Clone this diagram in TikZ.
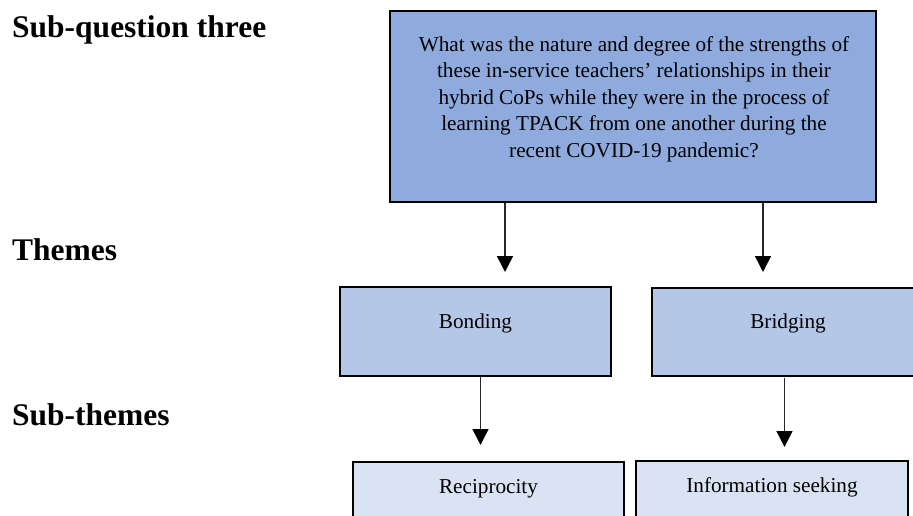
\documentclass[tikz,border=0pt]{standalone}
\usepackage{fontspec}
\setmainfont{Liberation Serif}
\usetikzlibrary{arrows.meta}

\definecolor{qfill}{HTML}{8FAADC}
\definecolor{tfill}{HTML}{B4C7E7}
\definecolor{sfill}{HTML}{DAE3F3}

\tikzset{
  box/.style={draw=black, line width=2.6pt, inner sep=0pt, rectangle},
  boxtext/.style={font=\fontsize{21.2}{26.6}\selectfont, inner sep=0pt},
  rowlabel/.style={font=\fontsize{31.5}{36}\selectfont\bfseries, inner sep=0pt, anchor=base west},
  arr/.style={draw=black!85, line width=1.5pt, -{Triangle[width=16pt,length=16pt,color=black]}}
}

\begin{document}
\begin{tikzpicture}[x=1pt, y=-1pt]
  \useasboundingbox (0,0) rectangle (913,516);
  \clip (0,0) rectangle (913,516);

  % row labels
  \node[rowlabel] (lq) at (12,38) {Sub-question three};
  \node[rowlabel] (lt) at (12,260) {Themes};
  \node[rowlabel] (ls) at (12,425) {Sub-themes};

  % research sub-question
  \node[box, fill=qfill, minimum width=486pt, minimum height=191pt] (q) at (633,106.5) {};
  \node[boxtext, align=center, anchor=north] (qt) at (634,36)
    {What was the nature and degree of the strengths of\\
     these in-service teachers’ relationships in their\\
     hybrid CoPs while they were in the process of\\
     learning TPACK from one another during the\\
     recent COVID-19 pandemic?};

  % themes
  \node[box, fill=tfill, minimum width=271pt, minimum height=89pt] (bo) at (475.5,331.5) {};
  \node[boxtext, anchor=base] (bot) at (475.5,328) {Bonding};
  \node[box, fill=tfill, minimum width=272pt, minimum height=88pt] (br) at (788,332) {};
  \node[boxtext, anchor=base] (brt) at (788,328) {Bridging};

  % sub-themes
  \node[box, fill=sfill, minimum width=271pt, minimum height=89pt] (re) at (488.5,506.5) {};
  \node[boxtext, anchor=base] (ret) at (488.5,493) {Reciprocity};
  \node[box, fill=sfill, minimum width=272pt, minimum height=89pt] (in) at (772,505.5) {};
  \node[boxtext, anchor=base] (int) at (772,492) {Information seeking};

  % arrow tips
  \coordinate (t1) at (505,272);
  \coordinate (t2) at (763,272);
  \coordinate (t3) at (480.5,445);
  \coordinate (t4) at (784.5,447);
  \coordinate (s4) at (784.5,378);

  % connectors
  \draw[arr] (q.south -| t1) -- (t1);
  \draw[arr] (q.south -| t2) -- (t2);
  \draw[arr] (bo.south -| t3) -- (t3);
  \draw[arr] (s4) -- (t4);
\end{tikzpicture}
\end{document}
